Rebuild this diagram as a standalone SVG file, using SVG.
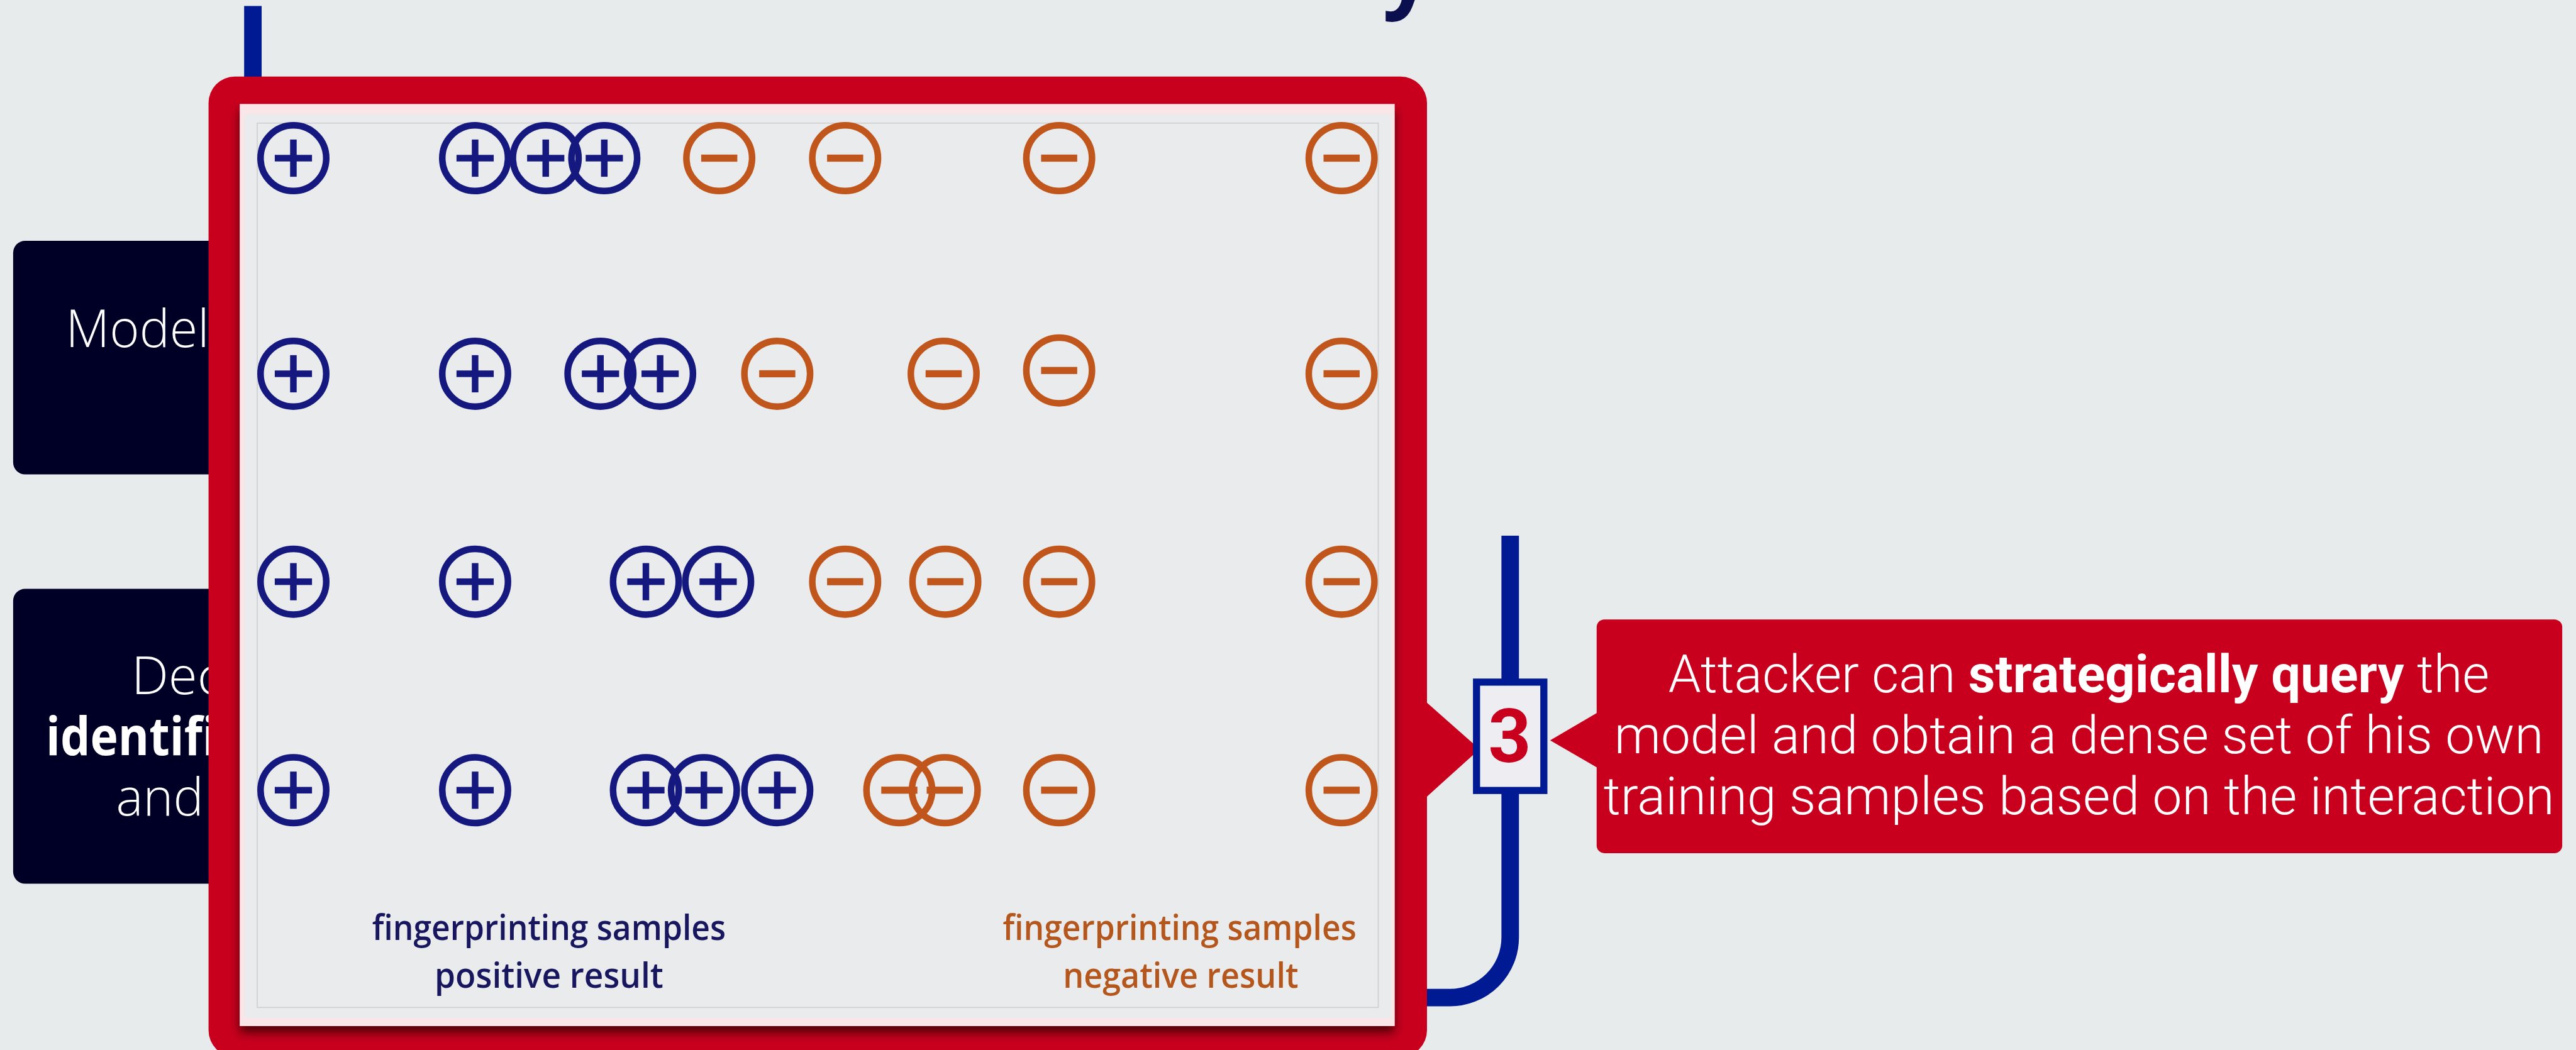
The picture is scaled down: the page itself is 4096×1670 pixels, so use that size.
<svg xmlns="http://www.w3.org/2000/svg" width="4096" height="1670" viewBox="0 0 4096 1670">
<style>
.box{fill:#000026}
.btxt{font-family:"Open Sans","Noto Sans",sans-serif;font-size:96px;fill:#ffffff;font-weight:300}
.bold{font-weight:700}
.conn{fill:none;stroke:#001a94;stroke-width:32}
.ring-p{fill:none;stroke:#15197f;stroke-width:12}
.ring-m{fill:none;stroke:#c0561b;stroke-width:12}
.bar-p{fill:#15197f}
.bar-m{fill:#c0561b}
.lbl{font-family:"Open Sans","Noto Sans",sans-serif;font-size:64px;font-weight:600;text-anchor:middle}
.ctxt{font-family:Roboto,"Liberation Sans",sans-serif;font-size:96px;font-weight:300;fill:#ffffff;text-anchor:middle}
</style>
<defs>
<g id="plus"><circle class="ring-p" r="60"/><rect class="bar-p" x="-34" y="-6" width="68" height="12"/><rect class="bar-p" x="-6" y="-34" width="12" height="68"/></g>
<g id="minus"><circle class="ring-m" r="60"/><rect class="bar-m" x="-33" y="-6.5" width="66" height="13"/></g>
<filter id="sh" x="-5%" y="-5%" width="110%" height="110%"><feDropShadow dx="0" dy="12" stdDeviation="9" flood-color="#2a0006" flood-opacity="0.75"/></filter>
</defs>
<rect width="4096" height="1670" fill="#e8ebec"/>
<g transform="scale(0.87035)">
<text x="2526" y="1" font-family="Open Sans, sans-serif" font-weight="700" font-size="160" fill="#0b0f4d">y</text>

<g id="node-model">
<rect class="box" x="24" y="440" width="520" height="427" rx="22"/>
<text class="btxt" x="120" y="634" textLength="262" lengthAdjust="spacingAndGlyphs">Model</text>
</g>
<g id="node-decision">
<rect class="box" x="24" y="1076" width="520" height="539" rx="22"/>
<text class="btxt" x="240" y="1269">Dec</text>
<text class="btxt bold" x="84" y="1380" textLength="312" lengthAdjust="spacingAndGlyphs">identifi</text>
<text class="btxt" x="212" y="1490" textLength="160" lengthAdjust="spacingAndGlyphs">and</text>
</g>

<g id="connectors">
<path class="conn" d="M462 11 V160"/>
<path class="conn" d="M2759 979 V1713 A110 110 0 0 1 2649 1823 H2590"/>
</g>

<g id="frame">
<rect x="381" y="140" width="2226" height="1791" rx="48" fill="#c8001e"/>
<polygon points="2600,1278 2703,1369 2600,1462" fill="#c8001e"/>
<rect x="438" y="190" width="2110" height="1685" fill="#fae5e8" filter="url(#sh)"/>
<rect x="447" y="209" width="2095" height="1651" fill="#e9ebec"/>
<rect x="470" y="225" width="2048" height="1616" fill="none" stroke="#cfd0d2" stroke-width="2"/>
<g id="samples">
<use href="#plus" x="536" y="289"/><use href="#plus" x="868" y="289"/><use href="#plus" x="997" y="289"/><use href="#plus" x="1104" y="289"/>
<use href="#minus" x="1314" y="289"/><use href="#minus" x="1544" y="289"/><use href="#minus" x="1935" y="289"/><use href="#minus" x="2451" y="289"/>
<use href="#plus" x="536" y="683"/><use href="#plus" x="868" y="683"/><use href="#plus" x="1097" y="683"/><use href="#plus" x="1206" y="683"/>
<use href="#minus" x="1420" y="683"/><use href="#minus" x="1724" y="683"/><use href="#minus" x="1935" y="677"/><use href="#minus" x="2451" y="683"/>
<use href="#plus" x="536" y="1063"/><use href="#plus" x="868" y="1063"/><use href="#plus" x="1180" y="1063"/><use href="#plus" x="1312" y="1063"/>
<use href="#minus" x="1544" y="1063"/><use href="#minus" x="1727" y="1063"/><use href="#minus" x="1935" y="1063"/><use href="#minus" x="2451" y="1063"/>
<use href="#plus" x="536" y="1444"/><use href="#plus" x="868" y="1444"/><use href="#plus" x="1180" y="1444"/><use href="#plus" x="1286" y="1444"/><use href="#plus" x="1420" y="1444"/>
<use href="#minus" x="1643" y="1444"/><use href="#minus" x="1726" y="1444"/><use href="#minus" x="1935" y="1444"/><use href="#minus" x="2451" y="1444"/>
</g>
<text class="lbl" x="1003" y="1718" fill="#17165e" textLength="646" lengthAdjust="spacingAndGlyphs">fingerprinting samples</text>
<text class="lbl" x="1003" y="1805" fill="#17165e" textLength="418" lengthAdjust="spacingAndGlyphs">positive result</text>
<text class="lbl" x="2155" y="1718" fill="#b5561c" textLength="646" lengthAdjust="spacingAndGlyphs">fingerprinting samples</text>
<text class="lbl" x="2157" y="1805" fill="#b5561c" textLength="430" lengthAdjust="spacingAndGlyphs">negative result</text>
</g>

<g id="badge-3">
<rect x="2697.5" y="1246.5" width="123" height="198" fill="#eeeef2" stroke="#001a94" stroke-width="13"/>
<text x="2758" y="1393" font-family="Roboto, Liberation Sans, sans-serif" font-weight="700" font-size="137" fill="#c8001e" text-anchor="middle">3</text>
</g>

<g id="callout">
<rect x="2917" y="1132" width="1764" height="427" rx="14" fill="#c8001e"/>
<polygon points="2922,1300 2832,1353 2922,1405" fill="#c8001e"/>
<text class="ctxt" x="3798" y="1265" textLength="1500" lengthAdjust="spacingAndGlyphs">Attacker can <tspan font-weight="700">strategically query</tspan> the</text>
<text class="ctxt" x="3798" y="1377" textLength="1698" lengthAdjust="spacingAndGlyphs">model and obtain a dense set of his own</text>
<text class="ctxt" x="3798" y="1488" textLength="1737" lengthAdjust="spacingAndGlyphs">training samples based on the interaction</text>
</g>
</g>
</svg>
